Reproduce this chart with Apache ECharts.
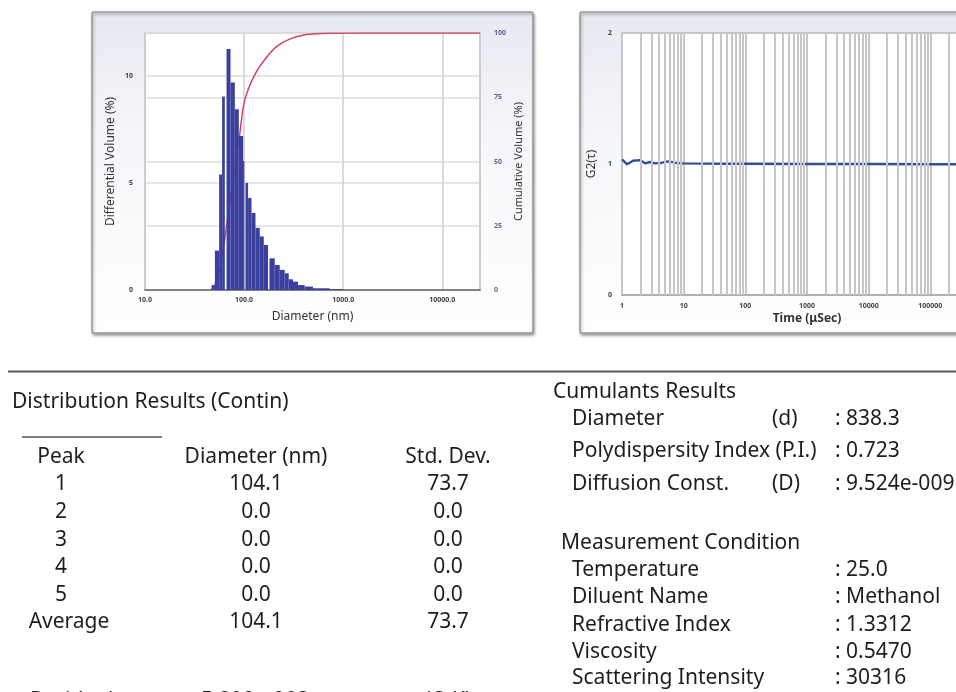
<!DOCTYPE html>
<html lang="en">
<head>
<meta charset="UTF-8">
<title>DLS report</title>
<style>
  html, body { margin: 0; padding: 0; background: #fff; }
  #main { width: 956px; height: 692px; }
</style>
</head>
<body>
<div id="main"></div>
<script src="https://cdn.jsdelivr.net/npm/echarts@6/dist/echarts.min.js"></script>
<script>
// histogram bins (nm) and differential volume (%)
var binLo = [47.0, 50.7, 56.0, 60.0, 66.5, 72.9, 80.6, 88.4, 97.7, 103.3, 109.7, 118.7, 130.2, 143.9, 157.9, 180.3, 203.8, 228.9, 257.0, 281.9, 311.6, 349.9, 408.6, 495.3, 729.5];
var binHi = [50.7, 56.0, 60.0, 63.9, 72.9, 80.6, 88.4, 97.7, 100.5, 109.7, 118.7, 130.2, 143.9, 157.9, 174.4, 203.8, 228.9, 257.0, 281.9, 311.6, 349.9, 408.6, 495.3, 729.5, 1000];
var diffVolume = [0.23, 1.84, 5.39, 9.03, 11.25, 9.69, 8.44, 7.19, 6.02, 5.0, 4.3, 3.6, 2.9, 2.5, 2.1, 1.48, 1.17, 0.94, 0.78, 0.5, 0.39, 0.23, 0.16, 0.08, 0.04];

// cumulative volume curve
var cumDiameter = [47, 50.7, 56, 60, 65.5, 72.9, 80.6, 90.6, 97.7, 109.7, 133.3, 168, 212, 288, 425, 730, 1500, 24000];
var cumVolume = [0.2, 2, 7, 13, 23, 36, 48, 61, 71, 78, 85, 90.5, 94.7, 97.6, 99.4, 99.9, 100, 100];

// correlation function
var lagTime = [1, 1.21, 1.51, 1.96, 2.36, 2.85, 3.43, 4.46, 5.58, 7.25, 9.78, 20, 50, 100, 1000, 10000, 100000, 1000000];
var g2 = [1.035, 0.998, 1.025, 1.03, 1.005, 1.015, 1.005, 1.01, 1.02, 1.01, 1.005, 1.003, 1.002, 1.002, 1.0, 1.0, 0.998, 0.998];

// minor log grid of the time axis
var minorMult = [2, 3, 4, 5, 6, 7, 8, 9];
var timeDecades = [1, 10, 100, 1000, 10000, 100000];

// result tables
var peakNo = ['1', '2', '3', '4', '5'];
var peakDiameter = ['104.1', '0.0', '0.0', '0.0', '0.0'];
var peakStdDev = ['73.7', '0.0', '0.0', '0.0', '0.0'];
var averageDiameter = '104.1';
var averageStdDev = '73.7';
var residual = '5.800e-003';
var residualStatus = '(O.K)';
var cumulantLabels = ['Diameter', 'Polydispersity Index (P.I.)', 'Diffusion Const.'];
var cumulantSymbols = ['(d)', '', '(D)'];
var cumulantValues = ['838.3', '0.723', '9.524e-009'];
var conditionLabels = ['Temperature', 'Diluent Name', 'Refractive Index', 'Viscosity', 'Scattering Intensity'];
var conditionValues = ['25.0', 'Methanol', '1.3312', '0.5470', '30316'];

var FONT = '"Noto Sans", "DejaVu Sans", sans-serif';
var TXT = '#1e1e1e';

var bins = binLo.map(function (lo, i) { return [lo, binHi[i], diffVolume[i]]; });
var cumData = cumDiameter.map(function (d, i) { return [d, cumVolume[i]]; });
var g2Data = lagTime.map(function (t, i) { return [t, g2[i]]; });

var minorLines = [];
timeDecades.forEach(function (dec) {
    minorMult.forEach(function (m) { minorLines.push({ xAxis: dec * m }); });
});

function txt(x, y, s, align, size) {
    return {
        type: 'text', x: x, y: y, silent: true,
        style: {
            text: s, fill: TXT, font: (size || 21) + 'px ' + FONT,
            textAlign: align || 'left', textVerticalAlign: 'middle'
        }
    };
}

var panelFill = new echarts.graphic.LinearGradient(0, 0, 0, 1, [
    { offset: 0, color: '#e7e9f2' },
    { offset: 0.4, color: '#f6f7fa' },
    { offset: 1, color: '#ffffff' }
]);

var elements = [
    { type: 'rect', z: -5, shape: { x: 92, y: 12, width: 441, height: 321, r: 2 },
      style: { fill: panelFill, stroke: '#999', lineWidth: 1.5, shadowBlur: 3, shadowOffsetX: 1, shadowOffsetY: 2, shadowColor: 'rgba(0,0,0,0.35)' } },
    { type: 'rect', z: -5, shape: { x: 580, y: 12, width: 420, height: 321, r: 2 },
      style: { fill: panelFill, stroke: '#999', lineWidth: 1.5, shadowBlur: 3, shadowOffsetX: 1, shadowOffsetY: 2, shadowColor: 'rgba(0,0,0,0.35)' } },
    { type: 'line', shape: { x1: 8, y1: 371.5, x2: 956, y2: 371.5 }, style: { stroke: '#5a5a5a', lineWidth: 2 } },
    { type: 'line', shape: { x1: 22, y1: 437, x2: 162, y2: 437 }, style: { stroke: '#555', lineWidth: 1.5 } },
    txt(12, 402, 'Distribution Results (Contin)'),
    txt(61, 457, 'Peak', 'center'),
    txt(256, 457, 'Diameter (nm)', 'center'),
    txt(448, 457, 'Std. Dev.', 'center')
];
var rowY = [484, 512, 540, 567, 595];
peakNo.forEach(function (p, i) {
    elements.push(txt(61, rowY[i], p, 'center'));
    elements.push(txt(256, rowY[i], peakDiameter[i], 'center'));
    elements.push(txt(448, rowY[i], peakStdDev[i], 'center'));
});
elements.push(txt(69, 622, 'Average', 'center'));
elements.push(txt(256, 622, averageDiameter, 'center'));
elements.push(txt(448, 622, averageStdDev, 'center'));
elements.push(txt(30, 701, 'Residual'));
elements.push(txt(131, 701, ':'));
elements.push(txt(255, 701, residual, 'center'));
elements.push(txt(448, 701, residualStatus, 'center'));

elements.push(txt(553, 392, 'Cumulants Results'));
var cumY = [419, 451, 484];
cumulantLabels.forEach(function (l, i) {
    elements.push(txt(572, cumY[i], l));
    if (cumulantSymbols[i]) elements.push(txt(772, cumY[i], cumulantSymbols[i]));
    elements.push(txt(835, cumY[i], ': ' + cumulantValues[i]));
});
elements.push(txt(561, 543, 'Measurement Condition'));
var condY = [570, 597, 625, 652, 678];
conditionLabels.forEach(function (l, i) {
    elements.push(txt(572, condY[i], l));
    elements.push(txt(835, condY[i], ': ' + conditionValues[i]));
});

var tickFont = { fontSize: 7, fontWeight: 'bold', fontFamily: FONT };
var gridLine = { show: true, lineStyle: { color: '#dcdcdc', width: 1.5 } };

var chart = echarts.init(document.getElementById('main'));
chart.setOption({
    animation: false,
    backgroundColor: '#fff',
    graphic: { elements: elements },
    grid: [
        { left: 145, top: 33, width: 335, height: 257, outerBoundsMode: 'none', show: true, backgroundColor: '#fff', borderColor: '#b5b5b5', borderWidth: 1.5 },
        { left: 622, top: 33, width: 370, height: 262, outerBoundsMode: 'none', show: true, backgroundColor: '#fff', borderColor: '#b5b5b5', borderWidth: 1.5 }
    ],
    xAxis: [
        {
            type: 'log', gridIndex: 0, logBase: 10, min: 10, max: 24000,
            name: 'Diameter (nm)', nameLocation: 'middle', nameGap: 21,
            nameTextStyle: { fontSize: 12, color: '#333', fontFamily: FONT },
            axisLine: { lineStyle: { color: '#666', width: 1.5 } },
            axisTick: { show: false },
            axisLabel: Object.assign({ color: '#444', margin: 6, showMaxLabel: false,
                formatter: function (v) { return Number(v).toFixed(1); } }, tickFont),
            splitLine: { show: true, lineStyle: { color: '#cfcfcf', width: 1.5 } }
        },
        {
            type: 'log', gridIndex: 1, logBase: 10, min: 1, max: 1000000,
            name: 'Time (\u03bcSec)', nameLocation: 'middle', nameGap: 18,
            nameTextStyle: { fontSize: 12, color: '#333', fontWeight: 'bold', fontFamily: FONT },
            axisLine: { lineStyle: { color: '#aaa', width: 1.5 } },
            axisTick: { show: false },
            axisLabel: Object.assign({ color: '#444', margin: 7,
                formatter: function (v) { return String(Math.round(v)); } }, tickFont),
            splitLine: { show: true, lineStyle: { color: '#c6c6c6', width: 2 } }
        }
    ],
    yAxis: [
        {
            type: 'value', gridIndex: 0, min: 0, max: 12, interval: 5,
            name: 'Differential Volume (%)', nameLocation: 'middle', nameGap: 28, nameRotate: 90,
            nameTextStyle: { fontSize: 12, color: '#333', fontFamily: FONT },
            axisLine: { show: false }, axisTick: { show: false },
            axisLabel: Object.assign({ color: '#444', margin: 12, showMaxLabel: false }, tickFont),
            splitLine: gridLine
        },
        {
            type: 'value', gridIndex: 0, position: 'right', min: 0, max: 100, interval: 25,
            name: 'Cumulative Volume (%)', nameLocation: 'middle', nameGap: 33, nameRotate: 90,
            nameTextStyle: { fontSize: 11, color: '#333', fontFamily: FONT },
            axisLine: { show: false }, axisTick: { show: false },
            axisLabel: Object.assign({ color: '#6a5c9c', margin: 14 }, tickFont),
            splitLine: gridLine
        },
        {
            type: 'value', gridIndex: 1, min: 0, max: 2, interval: 1,
            name: 'G2(\u03c4)', nameLocation: 'middle', nameGap: 24, nameRotate: 90,
            nameTextStyle: { fontSize: 12, color: '#333', fontFamily: FONT },
            axisLine: { show: false }, axisTick: { show: false },
            axisLabel: Object.assign({ color: '#444', margin: 10 }, tickFont),
            splitLine: { show: false }
        }
    ],
    series: [
        {
            type: 'line', xAxisIndex: 0, yAxisIndex: 1, z: 2,
            data: cumData, smooth: 0.2, showSymbol: false, silent: true,
            lineStyle: { color: '#d24466', width: 1.5 }
        },
        {
            type: 'custom', xAxisIndex: 0, yAxisIndex: 0, z: 3, silent: true,
            data: bins, encode: { x: [0, 1], y: 2 },
            renderItem: function (params, api) {
                var p0 = api.coord([api.value(0), api.value(2)]);
                var p1 = api.coord([api.value(1), 0]);
                return {
                    type: 'rect',
                    shape: { x: p0[0], y: p0[1], width: p1[0] - p0[0], height: p1[1] - p0[1] },
                    style: { fill: '#3b3f9e' }
                };
            }
        },
        {
            type: 'line', xAxisIndex: 1, yAxisIndex: 2, z: 1, silent: true,
            data: g2Data, showSymbol: false, lineStyle: { opacity: 0 },
            markLine: {
                silent: true, symbol: ['none', 'none'], label: { show: false },
                lineStyle: { color: '#c6c6c6', width: 2, type: 'solid' },
                data: minorLines
            }
        },
        {
            type: 'line', xAxisIndex: 1, yAxisIndex: 2, z: 4, silent: true,
            data: g2Data, showSymbol: false,
            lineStyle: { color: '#2f4f9c', width: 2.4 }
        }
    ]
});
</script>
</body>
</html>
